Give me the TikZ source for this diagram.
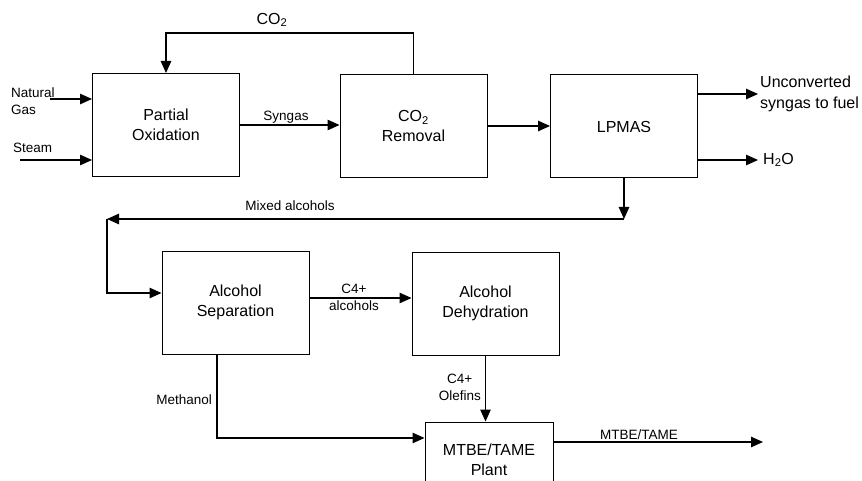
\documentclass[tikz,border=0pt]{standalone}
\usepackage{fontspec}
\setmainfont{Liberation Sans}
\usetikzlibrary{arrows.meta}
\tikzset{
  proc/.style={draw, line width=1pt, minimum width=147pt, minimum height=103pt, align=center, inner sep=0pt, font=\fontsize{16}{20}\selectfont},
  lbl/.style={inner sep=1pt, font=\fontsize{13.5}{17}\selectfont},
  biglbl/.style={inner sep=1pt, font=\fontsize{16}{21}\selectfont},
  arr/.style={line width=1.2pt, -{Triangle[length=12pt,width=10.5pt]}},
  ln/.style={line width=1.2pt}
}
\begin{document}
\begin{tikzpicture}[x=1pt,y=-1pt]
\useasboundingbox (0,0) rectangle (862,481);
\clip (0,0) rectangle (862,481);
% boxes
\node[proc] (po) at (166,125) {Partial\\Oxidation};
\node[proc] (cr) at (413.5,126) {CO\textsubscript{2}\\Removal};
\node[proc] (lp) at (624,126.5) {LPMAS};
\node[proc] (as) at (235.5,302.5) {Alcohol\\Separation};
\node[proc] (ad) at (485.5,303.5) {Alcohol\\Dehydration};
\node[proc, minimum width=128pt, minimum height=76pt] (mt) at (489,460) {MTBE/TAME\\Plant};
% labels
\node[lbl, anchor=west, align=left] (nglbl) at (10,101) {Natural\\Gas};
\node[lbl, anchor=west] (stlbl) at (12,148) {Steam};
\node[lbl] (sglbl) at (286,117) {Syngas};
\node[biglbl] (co2lbl) at (272,20) {CO\textsubscript{2}};
\node[biglbl, anchor=west, align=left] (uc) at (759,94) {Unconverted\\syngas to fuel};
\node[biglbl, anchor=west] (h2o) at (762,160) {H\textsubscript{2}O};
\node[lbl] (mxlbl) at (290,206) {Mixed alcohols};
\node[lbl, align=center] (c4a) at (354,297) {C4+\\alcohols};
\node[lbl, anchor=east] (melbl) at (213,400) {Methanol};
\node[lbl, anchor=east, align=center] (c4o) at (482,387) {C4+\\Olefins};
\node[lbl] (mtlbl) at (639,435) {MTBE/TAME};
% coordinates
\coordinate (ng) at (50,99);
\coordinate (st) at (20,160);
\coordinate (c1) at (624,219);
\coordinate (c2) at (107,219);
\coordinate (c3) at (107,293);
\coordinate (ca) at (0,298);
\coordinate (mx) at (217,438);
\coordinate (mo) at (763,442);
% connectors
\draw[arr] (ng) -- (ng -| po.west);
\draw[arr] (st) -- (st -| po.west);
\draw[arr] (po.east) -- (po.east -| cr.west);
\draw[arr] (cr.north) -- ++(0,-41) -| (po.north);
\draw[arr] (cr.east) -- (cr.east -| lp.west);
\draw[arr] (uc.west -| lp.east) -- ++(60,0);
\draw[arr] (h2o.west -| lp.east) -- ++(60,0);
\draw[arr] (lp.south) -- (c1);
\draw[arr] (c1) -- (c2);
\draw[arr] (c2) -- (c3) -- (c3 -| as.west);
\draw[arr] (ca -| as.east) -- (ca -| ad.west);
\draw[arr] (as.south -| mx) |- (mx -| mt.west);
\draw[arr] (ad.south) -- (ad.south |- mt.north);
\draw[arr] (mo -| mt.east) -- (mo);
\end{tikzpicture}
\end{document}
